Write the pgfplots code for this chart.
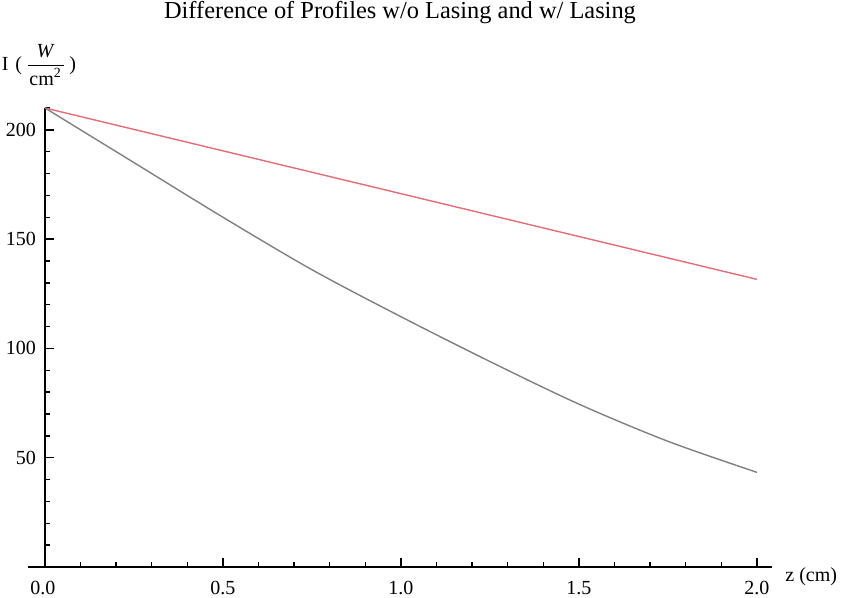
\documentclass[border=0pt]{standalone}
\usepackage{pgfplots}
\pgfplotsset{compat=1.18}
\usepackage{fontspec}
\setmainfont{Liberation Serif}
\definecolor{pinkred}{RGB}{232,108,118}
\definecolor{curvegray}{RGB}{128,128,128}
\begin{document}
\begin{tikzpicture}
\begin{axis}[
  anchor=origin, at={(0pt,0pt)},
  scale only axis,
  width=372pt, height=229.5pt,
  xmin=-0.048, xmax=2.042,
  ymin=0, ymax=210,
  axis lines=middle,
  axis line style={-, line width=0.75pt, black},
  tick align=inside,
  major tick length=4.5pt,
  minor tick length=2.5pt,
  every tick/.style={black, line width=0.7pt},
  xtick={0,0.5,1.0,1.5,2.0},
  minor xtick={0.1,0.2,0.3,0.4,0.6,0.7,0.8,0.9,1.1,1.2,1.3,1.4,1.6,1.7,1.8,1.9},
  ytick={50,100,150,200},
  minor ytick={10,20,30,40,60,70,80,90,110,120,130,140,160,170,180,190,210},
  /pgf/number format/assume math mode=true,
  xticklabel={\pgfmathprintnumber[fixed,fixed zerofill,precision=1,assume math mode=true]{\tick}},
  yticklabel={\pgfmathprintnumber[assume math mode=true]{\tick}},
  xticklabel style={anchor=north, yshift=-3.5pt},
  yticklabel style={anchor=east, xshift=-1pt},
  tick label style={font=\fontsize{10}{12}\selectfont},
  clip=false,
]
\addplot[pinkred, line width=0.7pt] coordinates {
  (0,210) (0.5,190.4) (1.0,170.8) (1.5,151.2) (2.0,131.6)
};
\addplot[curvegray, line width=0.7pt, smooth] coordinates {
  (0,210) (0.25,185) (0.5,160) (0.75,136) (1.0,114.5) (1.25,94) (1.5,74.5) (1.75,57.5) (2.0,43.3)
};
\end{axis}
\node[anchor=north, font=\fontsize{10}{12}\selectfont] at (-1pt,-3.5pt) {0.0};
\node[anchor=base, font=\fontsize{12.2}{14}\selectfont] at (177.5pt,274.05pt) {Difference of Profiles w/o Lasing and w/ Lasing};
\node[anchor=center, font=\fontsize{10}{12}\selectfont, inner sep=0pt] at (-3pt,252.3pt)
  {I\,\,(\,$\displaystyle\frac{\vrule width 0pt height 9pt\hbox{\textit{W}}}{\vrule width 0pt height 8pt\hbox to 18pt{\hfil cm\textsuperscript{2}\hfil}}$\,)};
\node[anchor=base west, font=\fontsize{10}{12}\selectfont, inner sep=0pt] at (370pt,-7.2pt) {z (cm)};
\pgfresetboundingbox
\path (-22.5pt,-15.5pt) rectangle (398.5pt,283.5pt);
\end{tikzpicture}
\end{document}
